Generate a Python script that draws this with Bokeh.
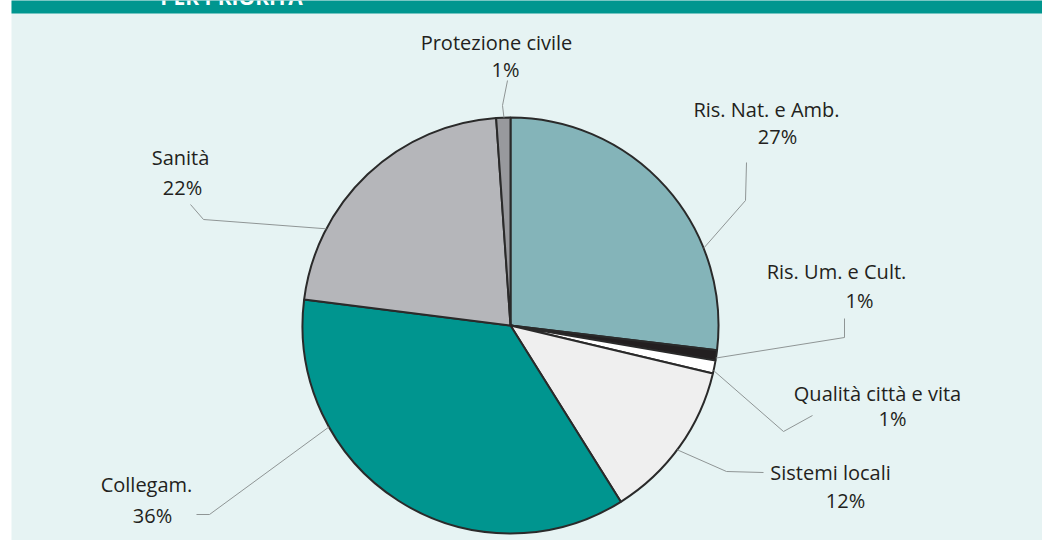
import math
from bokeh.plotting import figure
from bokeh.models import Range1d, ColumnDataSource
from bokeh.core.properties import value
from bokeh.embed import file_html
from bokeh.resources import INLINE

# ---- data ----
categories = ["Ris. Nat. e Amb.", "Ris. Um. e Cult.", "Qualità città e vita",
              "Sistemi locali", "Collegam.", "Sanità", "Protezione civile"]
shares = [26.9, 0.8, 1.0, 12.4, 35.9, 21.9, 1.1]
pct_labels = ["27%", "1%", "1%", "12%", "36%", "22%", "1%"]
colors = ["#84b4b9", "#231f20", "#ffffff", "#efefef", "#00958f", "#b5b6ba", "#98999d"]
title_text = "PER PRIORITÀ"

# ---- layout (page pixel coords; y converted to data with 540 - y) ----
H = 540
def Y(py):
    return H - py

cx, cy, R = 510, Y(325), 208

# leader anchors on the rim (degrees clockwise from top), elbow and end points
anchor_deg = [68.2, 99.0, 102.5, 126.7, 240.8, 297.7, 358.2]
elbows = [(745, 200), (844, 337), (783, 431), (726, 471), (209, 514), (203, 219), (502, 105)]
ends = [(746, 162), (844, 318), (812, 415), (763, 472), (196, 514), (190, 204), (507, 80)]

# label line positions: (center x, baseline y) for name and percent
name_pos = [(766, 116), (836, 278), (877, 400), (830, 479), (146, 491), (180, 164), (496, 49)]
pct_pos = [(777, 143), (859, 307), (892, 425), (845, 507), (152, 522), (182, 194), (505, 76)]
TEXT_SHIFT = 7  # renderer places alphabetic baseline slightly low

FONT = value("Open Sans")
FS = "20px"

p = figure(width=1042, height=540, output_backend="svg", toolbar_location=None,
           x_range=Range1d(11, 1042), y_range=Range1d(0, 540),
           min_border_left=11, min_border_right=0, min_border_top=0, min_border_bottom=0)
p.axis.visible = False
p.grid.visible = False
p.outline_line_color = None
p.background_fill_color = "#e6f3f3"
p.border_fill_color = "white"

# title band
p.quad(left=0, right=1100, bottom=Y(13), top=600, fill_color="#00968f", line_color=None)
p.text(x=[231], y=[Y(-4)], text=[title_text], text_align="center", text_baseline="alphabetic",
       text_color="white", text_font=FONT, text_font_style="bold", text_font_size="21px")

# wedges
total = sum(shares)
starts, endsa = [], []
cum = 0.0
for s in shares:
    starts.append(math.pi / 2 - 2 * math.pi * cum / total)
    cum += s
    endsa.append(math.pi / 2 - 2 * math.pi * cum / total)
src = ColumnDataSource(dict(start=starts, end=endsa, color=colors, name=categories))
p.wedge(x=cx, y=cy, radius=R, start_angle="start", end_angle="end", direction="clock",
        fill_color="color", line_color="#2a2a2a", line_width=2, source=src)

# leader lines
for a, e, f in zip(anchor_deg, elbows, ends):
    t = math.radians(a)
    x0 = cx + R * math.sin(t)
    y0 = cy + R * math.cos(t)
    p.line(x=[x0, e[0], f[0]], y=[y0, Y(e[1]), Y(f[1])], line_color="#8f9595", line_width=1)

# labels
for name, pct, npos, ppos in zip(categories, pct_labels, name_pos, pct_pos):
    p.text(x=[npos[0]], y=[Y(npos[1] - TEXT_SHIFT)], text=[name], text_align="center",
           text_baseline="alphabetic", text_color="#231f20",
           text_font=FONT, text_font_size=FS)
    p.text(x=[ppos[0]], y=[Y(ppos[1] - TEXT_SHIFT)], text=[pct], text_align="center",
           text_baseline="alphabetic", text_color="#231f20",
           text_font=FONT, text_font_size=FS)

open("out.html", "w").write(file_html(p, INLINE))
